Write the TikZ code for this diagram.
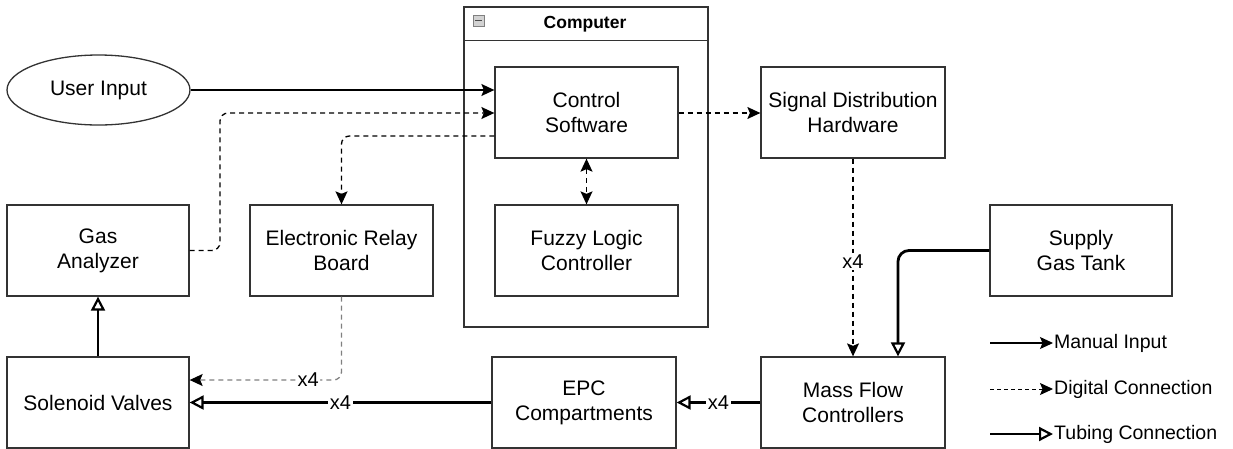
\documentclass[tikz,border=0pt]{standalone}
\usepackage{fontspec}
\setmainfont{Liberation Sans}
\usetikzlibrary{arrows.meta,shapes.geometric}
\definecolor{boxc}{HTML}{333333}
\begin{document}
\begin{tikzpicture}[x=1pt,y=-1pt,
  box/.style={draw=boxc, line width=1.3pt, minimum width=183pt, minimum height=91pt, inner sep=0pt, align=center, font=\fontsize{21}{25}\selectfont},
  conn/.style={line width=1.3pt, draw=black},
  tipS/.tip={Stealth[length=13pt,width=12pt,inset=2.5pt,color=black]},
  tipT/.tip={Triangle[open,length=14pt,width=14pt,line width=2.2pt,color=black,fill=white]},
  manual/.style={conn, -tipS},
  digital/.style={conn, dash pattern=on 5pt off 4pt, -tipS},
  digitalboth/.style={conn, dash pattern=on 5pt off 4pt, tipS-tipS},
  tube/.style={line width=2.8pt, draw=black, -tipT},
  lbl/.style={fill=white, inner sep=1.5pt, font=\fontsize{20}{24}\selectfont},
  leg/.style={anchor=west, inner sep=1pt, font=\fontsize{19.5}{23}\selectfont}
]
\useasboundingbox (0,0) rectangle (1233,448);

% Computer container
\node[draw=boxc, line width=1.3pt, minimum width=244pt, minimum height=320pt, inner sep=0pt] (comp) at (586,167) {};
\draw[draw=boxc, line width=1.3pt] ([yshift=-34pt]comp.north west) -- ([yshift=-34pt]comp.north east);
\node[font=\bfseries\fontsize{17.5}{20}\selectfont] (comptitle) at (585,24) {Computer};
\node[draw=gray, fill=gray!35, line width=0.9pt, minimum size=11pt, inner sep=0pt] (icon) at (478.5,20.5) {};
\draw[line width=1.6pt, draw=black!70] ([xshift=2.5pt]icon.west) -- ([xshift=-2.5pt]icon.east);

% Nodes
\node[draw=boxc, line width=1.3pt, ellipse, minimum width=183pt, minimum height=70pt, inner sep=0pt, font=\fontsize{21}{25}\selectfont] (user) at (98.5,90) {User Input};
\node[box] (cs) at (586.5,112.5) {Control\\Software};
\node[box] (fz) at (586.5,250.5) {Fuzzy Logic\\Controller};
\node[box, minimum width=184pt] (sdh) at (853,112.5) {Signal Distribution\\Hardware};
\node[box, minimum width=182pt] (ga) at (98,250.5) {Gas\\Analyzer};
\node[box] (erb) at (341.5,250.5) {Electronic Relay\\Board};
\node[box, minimum width=182pt] (sup) at (1081,250.5) {Supply\\Gas Tank};
\node[box, minimum width=182pt] (sol) at (98,402.5) {Solenoid Valves};
\node[box, minimum width=184pt] (epc) at (584,402.5) {EPC\\Compartments};
\node[box, minimum width=184pt] (mfc) at (853,402.5) {Mass Flow\\Controllers};

% Connectors
\coordinate (g1) at (220,113);
\coordinate (r1) at (342,136);
\coordinate (r2) at (342,380);
\coordinate (s1) at (898,250);

\draw[manual] (user.east) -- (cs.west |- user.east);
\draw[digital, rounded corners=8pt] (ga.east) -| (g1) -- (g1 -| cs.west);
\draw[digital, rounded corners=8pt] (cs.west |- r1) -| (erb.north);
\draw[digital] (cs.east |- g1) -- (sdh.west |- g1);
\draw[digitalboth] (cs.south) -- (fz.north);
\draw[digital] (sdh.south) -- node[lbl, pos=0.52] {x4} (mfc.north);
\draw[tube, rounded corners=11pt] (sup.west) -| (s1 |- mfc.north);
\draw[tube] (mfc.west) -- node[lbl] {x4} (epc.east);
\draw[tube] (epc.west) -- node[lbl] {x4} (sol.east);
\draw[digital, draw=black!50, rounded corners=8pt] (erb.south) |- node[lbl, pos=0.61] {x4} (sol.east |- r2);
\draw[tube] (sol.north) -- (ga.south);

% Legend
\coordinate (l1) at (990,343);
\coordinate (l2) at (990,389);
\coordinate (l3) at (990,434);
\node[leg] (lt1) at (1053,343) {Manual Input};
\node[leg] (lt2) at (1053,389) {Digital Connection};
\node[leg] (lt3) at (1053,434) {Tubing Connection};
\draw[manual, line width=1.1pt] (l1) -- (lt1.west);
\draw[digital, dash pattern=on 4pt off 3pt, line width=1pt] (l2) -- (lt2.west);
\draw[tube] (l3) -- (lt3.west);
\end{tikzpicture}
\end{document}
